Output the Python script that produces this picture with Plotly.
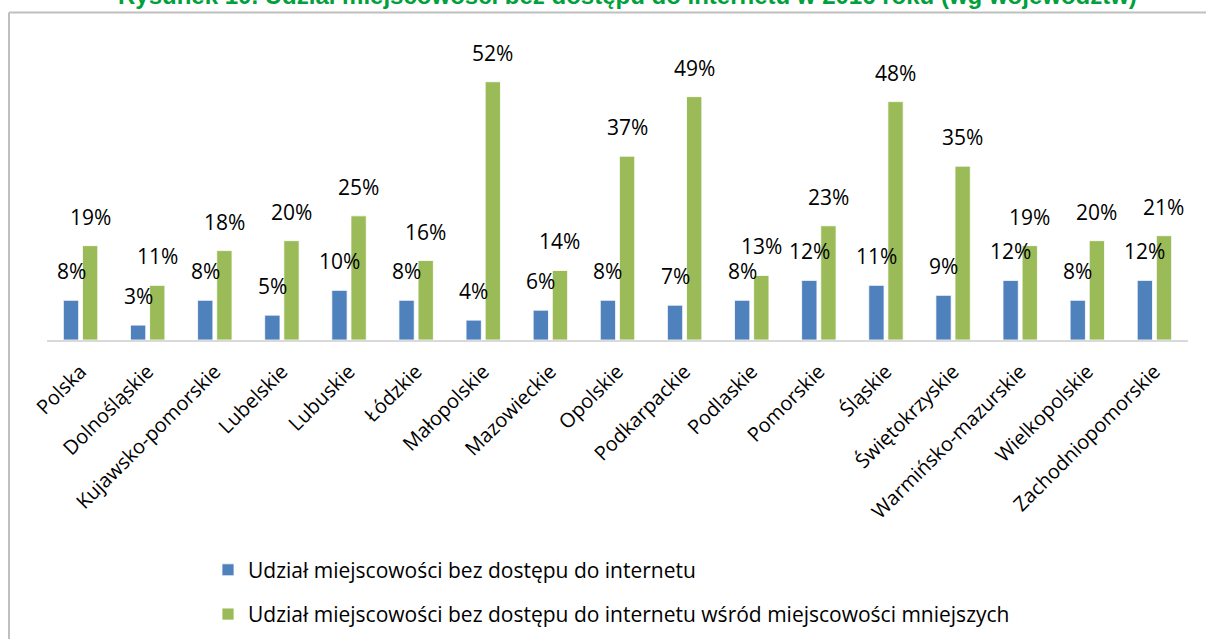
import plotly.graph_objects as go

categories = ["Polska", "Dolnośląskie", "Kujawsko-pomorskie", "Lubelskie", "Lubuskie",
              "Łódzkie", "Małopolskie", "Mazowieckie", "Opolskie", "Podkarpackie",
              "Podlaskie", "Pomorskie", "Śląskie", "Świętokrzyskie",
              "Warmińsko-mazurskie", "Wielkopolskie", "Zachodniopomorskie"]
share_all = [8, 3, 8, 5, 10, 8, 4, 6, 8, 7, 8, 12, 11, 9, 12, 8, 12]
share_small = [19, 11, 18, 20, 25, 16, 52, 14, 37, 49, 13, 23, 48, 35, 19, 20, 21]
series_names = ["Udział miejscowości bez dostępu do internetu",
                "Udział miejscowości bez dostępu do internetu wśród miejscowości mniejszych"]
title_text = "Rysunek 10. Udział miejscowości bez dostępu do internetu w 2016 roku (wg województw)"

BLUE = "#4f81bd"
GREEN = "#9bbb59"
FONT = "Open Sans"

# plot area geometry (pixels)
L, R, BASE, TOP = 47, 1188, 340, 41.5
H = BASE - TOP


def py(pix):
    return (BASE - pix) / H


def px(pix):
    return (pix - L) / (R - L)


fig = go.Figure()
fig.add_trace(go.Bar(x=categories, y=share_all, name=series_names[0],
                     marker=dict(color=BLUE, line=dict(color="white", width=0.8)),
                     legendgroup="a"))
fig.add_trace(go.Bar(x=categories, y=share_small, name=series_names[1],
                     marker=dict(color=GREEN, line=dict(color="white", width=0.8)),
                     legendgroup="b"))

offset = 0.142
annotations = []
for i in range(len(categories)):
    for vals, dx in ((share_all, -offset), (share_small, offset)):
        annotations.append(dict(x=i + dx, y=vals[i], xref="x", yref="y",
                                text=f"{vals[i]}%", showarrow=False,
                                xanchor="center", yanchor="bottom", yshift=13,
                                font=dict(family=FONT, size=21, color="#000000")))

annotations.append(dict(text=f"<b>{title_text}</b>", xref="paper", yref="paper",
                        x=px(628), y=py(0), xanchor="center", yanchor="middle",
                        yshift=5, showarrow=False,
                        font=dict(family="Liberation Sans", size=24, color="#00a03c")))

frame = dict(color="#bfbfbf", width=2)
fig.update_layout(
    width=1206, height=639,
    paper_bgcolor="white", plot_bgcolor="white",
    margin=dict(l=L, r=1206 - R, t=TOP, b=639 - BASE, autoexpand=False),
    barmode="group", bargap=0.43, bargroupgap=0.2,
    showlegend=True,
    legend=dict(orientation="v", x=px(208), xanchor="left",
                y=py(550), yanchor="top",
                font=dict(family=FONT, size=21, color="#000000"),
                tracegroupgap=14, bgcolor="rgba(0,0,0,0)"),
    annotations=annotations,
    xaxis=dict(tickangle=-45, tickfont=dict(family=FONT, size=20, color="#000000"),
               showline=True, linecolor="#d9d9d9", linewidth=2, automargin=False,
               ticklabelstandoff=10,
               ticks="", showgrid=False, fixedrange=True),
    yaxis=dict(range=[0, 60], visible=False, showgrid=False, zeroline=False,
               automargin=False),
    shapes=[
        dict(type="line", xref="paper", yref="paper", x0=px(9), x1=px(1260),
             y0=py(12), y1=py(12), line=frame, layer="below"),
        dict(type="line", xref="paper", yref="paper", x0=px(9), x1=px(9),
             y0=py(12), y1=py(700), line=frame, layer="below"),
    ],
)

fig.write_html("out.html")
